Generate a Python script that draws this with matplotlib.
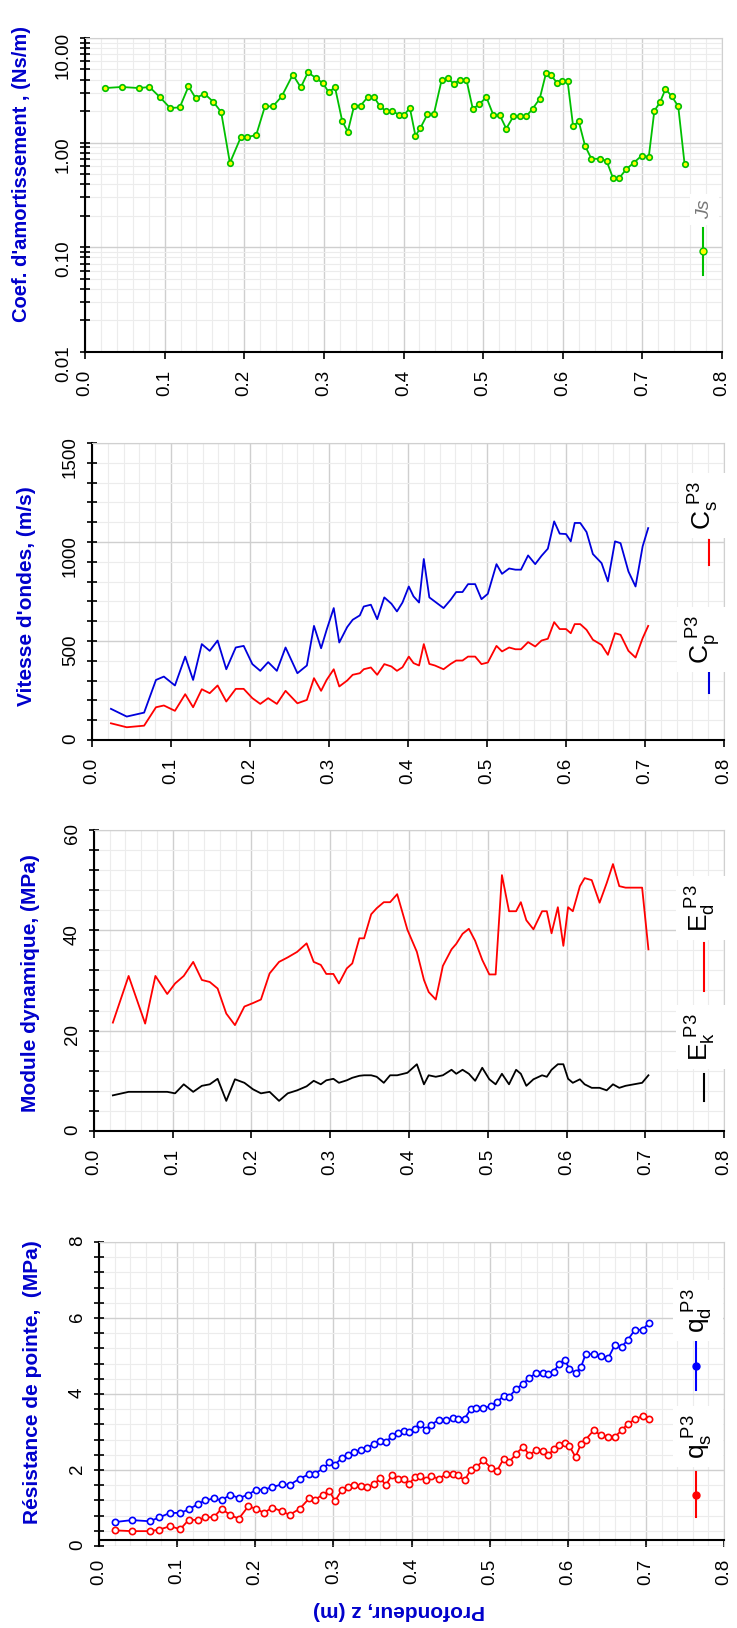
import numpy as np
import matplotlib
matplotlib.use('Agg')
import matplotlib.pyplot as plt
from matplotlib.ticker import MultipleLocator, FixedLocator, FuncFormatter, LogLocator

plt.rcParams['font.family'] = ['Liberation Sans', 'DejaVu Sans']
plt.rcParams['mathtext.fontset'] = 'custom'
plt.rcParams['mathtext.rm'] = 'Liberation Sans'

# Coefficient d'amortissement Js
z_js = [0.025, 0.046, 0.068, 0.081, 0.094, 0.107, 0.119, 0.130, 0.139, 0.150,
        0.161, 0.171, 0.182, 0.196, 0.204, 0.215, 0.226, 0.236, 0.247, 0.261,
        0.271, 0.280, 0.290, 0.299, 0.306, 0.314, 0.323, 0.330, 0.338, 0.346,
        0.355, 0.363, 0.370, 0.378, 0.386, 0.394, 0.401, 0.408, 0.415, 0.421,
        0.430, 0.438, 0.448, 0.456, 0.463, 0.471, 0.479, 0.487, 0.495, 0.504,
        0.513, 0.521, 0.529, 0.538, 0.546, 0.554, 0.562, 0.571, 0.579, 0.585,
        0.593, 0.599, 0.606, 0.613, 0.620, 0.628, 0.636, 0.647, 0.655, 0.663,
        0.671, 0.680, 0.689, 0.699, 0.708, 0.715, 0.722, 0.729, 0.737, 0.745,
        0.753]
js = [3.32, 3.40, 3.32, 3.40, 2.72, 2.14, 2.17, 3.44, 2.66, 2.93,
      2.46, 1.96, 0.64, 1.14, 1.13, 1.18, 2.22, 2.22, 2.76, 4.46,
      3.37, 4.69, 4.14, 3.68, 3.04, 3.37, 1.61, 1.27, 2.25, 2.25,
      2.72, 2.72, 2.25, 1.99, 2.00, 1.85, 1.85, 2.14, 1.16, 1.37,
      1.86, 1.86, 3.99, 4.11, 3.65, 3.99, 3.99, 2.10, 2.32, 2.72,
      1.82, 1.82, 1.36, 1.78, 1.78, 1.78, 2.10, 2.62, 4.62, 4.42,
      3.71, 3.90, 3.90, 1.43, 1.60, 0.93, 0.70, 0.70, 0.67, 0.46,
      0.46, 0.56, 0.64, 0.75, 0.73, 2.01, 2.42, 3.25, 2.76, 2.22,
      0.62]

# Vitesse d'ondes
z_c = [0.024, 0.044, 0.066, 0.081, 0.091, 0.105, 0.118, 0.128, 0.139, 0.149,
       0.159, 0.170, 0.182, 0.192, 0.203, 0.213, 0.223, 0.234, 0.245, 0.260,
       0.272, 0.281, 0.290, 0.297, 0.306, 0.313, 0.323, 0.330, 0.339, 0.344,
       0.353, 0.361, 0.370, 0.379, 0.386, 0.393, 0.401, 0.407, 0.414, 0.420,
       0.427, 0.434, 0.445, 0.454, 0.461, 0.469, 0.476, 0.485, 0.493, 0.501,
       0.512, 0.519, 0.528, 0.536, 0.543, 0.552, 0.561, 0.569, 0.577, 0.585,
       0.592, 0.600, 0.606, 0.611, 0.618, 0.626, 0.634, 0.645, 0.653, 0.662,
       0.669, 0.679, 0.688, 0.697, 0.704]
cp = [157, 118, 138, 303, 320, 275, 421, 303, 484, 450,
      502, 357, 467, 475, 383, 349, 393, 349, 467, 337,
      376, 576, 463, 556, 666, 492, 570, 607, 629, 674,
      683, 610, 720, 688, 649, 694, 775, 725, 694, 914,
      720, 699, 666, 708, 747, 747, 787, 787, 711, 738,
      888, 839, 866, 860, 860, 932, 888, 930, 966, 1104,
      1042, 1040, 1003, 1096, 1096, 1050, 939, 893, 801, 1003,
      994, 851, 775, 978, 1070]
cs = [84, 64, 72, 165, 174, 147, 231, 165, 256, 236,
      275, 194, 258, 258, 211, 182, 211, 182, 248, 185,
      202, 312, 248, 303, 357, 270, 300, 329, 337, 357,
      366, 329, 383, 371, 349, 367, 421, 388, 376, 484,
      384, 376, 357, 384, 401, 401, 421, 421, 383, 391,
      475, 447, 467, 458, 458, 494, 472, 502, 511, 595,
      560, 560, 539, 585, 585, 556, 506, 480, 430, 539,
      531, 450, 416, 514, 576]

# Module dynamique
z_e = [0.024, 0.044, 0.065, 0.078, 0.093, 0.103, 0.114, 0.126, 0.137, 0.147,
       0.157, 0.168, 0.179, 0.191, 0.202, 0.212, 0.223, 0.235, 0.246, 0.258,
       0.270, 0.279, 0.288, 0.295, 0.304, 0.311, 0.321, 0.328, 0.337, 0.343,
       0.352, 0.359, 0.368, 0.376, 0.385, 0.398, 0.410, 0.419, 0.425, 0.434,
       0.443, 0.454, 0.460, 0.468, 0.476, 0.484, 0.493, 0.502, 0.510, 0.518,
       0.527, 0.536, 0.542, 0.549, 0.558, 0.569, 0.575, 0.581, 0.589, 0.596,
       0.602, 0.608, 0.617, 0.623, 0.632, 0.642, 0.651, 0.659, 0.667, 0.675,
       0.696, 0.704]
ed = [21.6, 30.9, 21.4, 30.9, 27.3, 29.4, 30.9, 33.7, 30.1, 29.7,
      28.4, 23.4, 21.1, 24.8, 25.5, 26.2, 31.4, 33.7, 34.6, 35.7,
      37.4, 33.7, 33.1, 31.3, 31.3, 29.4, 32.4, 33.4, 38.4, 38.4,
      43.2, 44.4, 45.6, 45.6, 47.2, 40.1, 35.7, 30.1, 27.7, 26.2,
      32.9, 36.2, 37.3, 39.3, 40.3, 37.9, 34.1, 31.2, 31.2, 51.0,
      43.8, 43.8, 45.6, 42.0, 40.2, 43.8, 43.8, 39.4, 44.6, 36.9,
      44.6, 43.8, 48.8, 50.4, 50.0, 45.5, 49.4, 53.2, 48.8, 48.5,
      48.5, 36.2]
ek = [7.1, 7.8, 7.8, 7.8, 7.8, 7.5, 9.3, 7.8, 9.0, 9.3,
      10.4, 6.0, 10.3, 9.6, 8.3, 7.5, 7.8, 6.0, 7.5, 8.1,
      8.9, 10.0, 9.3, 10.1, 10.4, 9.6, 10.1, 10.6, 11.0, 11.1,
      11.1, 10.8, 9.6, 11.1, 11.1, 11.6, 13.3, 9.3, 11.1, 10.8,
      11.1, 12.2, 11.4, 12.2, 11.4, 10.0, 12.6, 10.3, 9.3, 11.4,
      9.3, 12.2, 11.4, 9.0, 10.3, 11.1, 10.8, 12.2, 13.3, 13.3,
      10.4, 9.6, 10.3, 9.3, 8.6, 8.6, 8.1, 9.3, 8.6, 9.0,
      9.6, 11.1]

# Resistance de pointe
z_q = [0.021, 0.042, 0.065, 0.077, 0.091, 0.104, 0.115, 0.127, 0.136, 0.147,
       0.157, 0.168, 0.179, 0.191, 0.201, 0.211, 0.222, 0.234, 0.244, 0.257,
       0.269, 0.276, 0.287, 0.295, 0.302, 0.311, 0.319, 0.326, 0.335, 0.343,
       0.352, 0.360, 0.367, 0.375, 0.383, 0.390, 0.397, 0.404, 0.411, 0.418,
       0.425, 0.435, 0.444, 0.453, 0.459, 0.468, 0.476, 0.483, 0.492, 0.502,
       0.509, 0.518, 0.525, 0.534, 0.543, 0.551, 0.559, 0.568, 0.575, 0.582,
       0.589, 0.596, 0.602, 0.610, 0.617, 0.623, 0.633, 0.643, 0.652, 0.660,
       0.669, 0.677, 0.686, 0.696, 0.704]
qd = [0.63, 0.68, 0.65, 0.75, 0.87, 0.87, 0.96, 1.11, 1.20, 1.25,
      1.20, 1.35, 1.26, 1.35, 1.48, 1.48, 1.55, 1.62, 1.61, 1.77,
      1.89, 1.90, 2.04, 2.20, 2.14, 2.32, 2.40, 2.48, 2.52, 2.59,
      2.68, 2.76, 2.73, 2.89, 2.96, 3.02, 3.00, 3.09, 3.22, 3.06,
      3.19, 3.32, 3.32, 3.36, 3.34, 3.35, 3.61, 3.63, 3.63, 3.68,
      3.79, 3.94, 3.92, 4.14, 4.27, 4.43, 4.54, 4.54, 4.53, 4.58,
      4.80, 4.90, 4.67, 4.55, 4.71, 5.06, 5.04, 5.00, 4.95, 5.28,
      5.24, 5.43, 5.69, 5.69, 5.88]
qs = [0.41, 0.39, 0.39, 0.43, 0.52, 0.44, 0.69, 0.68, 0.75, 0.76,
      0.98, 0.81, 0.72, 1.04, 0.98, 0.87, 1.01, 0.91, 0.82, 0.98,
      1.25, 1.22, 1.35, 1.45, 1.18, 1.48, 1.55, 1.60, 1.57, 1.54,
      1.62, 1.79, 1.60, 1.86, 1.75, 1.77, 1.62, 1.82, 1.83, 1.73,
      1.83, 1.77, 1.89, 1.90, 1.86, 1.73, 2.01, 2.08, 2.25, 2.05,
      1.96, 2.30, 2.21, 2.43, 2.61, 2.39, 2.52, 2.50, 2.40, 2.54,
      2.65, 2.71, 2.63, 2.34, 2.69, 2.80, 3.04, 2.91, 2.87, 2.87,
      3.04, 3.22, 3.33, 3.42, 3.33]

label_blue = '#0000cc'
fig = plt.figure(figsize=(7.37, 16.28), dpi=100)


def style_axes(ax, ylabel, lx, ly, lsize=15):
    ax.set_xlim(0, 0.8)
    ax.xaxis.set_major_locator(MultipleLocator(0.1))
    ax.xaxis.set_minor_locator(MultipleLocator(0.02))
    ax.xaxis.set_major_formatter(FuncFormatter(lambda v, p: '%.1f' % v))
    ax.grid(True, which='major', color='#cfcfcf', lw=1.0)
    ax.grid(True, which='minor', color='#ececec', lw=0.8)
    ax.set_axisbelow(True)
    ax.tick_params(axis='x', which='major', direction='out', length=5, width=1.2,
                   labelsize=13.5, labelrotation=90, pad=8)
    ax.tick_params(axis='x', which='minor', length=0)
    ax.tick_params(axis='y', which='both', direction='inout', length=7, width=1.2,
                   labelsize=13.5, labelrotation=90, pad=6)
    for s in ['left', 'bottom']:
        ax.spines[s].set_linewidth(1.5)
        ax.spines[s].set_color('black')
    for s in ['top', 'right']:
        ax.spines[s].set_color('#d0d0d0')
    ax.text(lx, ly, ylabel, transform=ax.transAxes, rotation=90, ha='center', va='center',
            fontsize=lsize, fontweight='bold', color=label_blue)


def legend_item(ax, x, y0, y1, color, marker=None, mfc=None):
    ym = (y0 + y1) / 2
    ax.plot([x, x], [y0, y1], color=color, lw=1.5, transform=ax.transAxes, clip_on=False)
    if marker:
        ax.plot([x], [ym], marker=marker, color=color, mfc=mfc, ms=5,
                transform=ax.transAxes, clip_on=False)


def legend_text(ax, x, y, s, size=19, color='black', style='normal'):
    ax.text(x, y, s, transform=ax.transAxes, rotation=90, ha='center', va='center',
            fontsize=size, color=color, style=style,
            bbox=dict(boxstyle='square,pad=0.3', fc='white', ec='none'))


# Panel 1 - Js
ax1 = fig.add_axes([0.1153, 0.7838, 0.8644, 0.1929])
ax1.plot(z_js, js, color='#00c000', lw=1.3, marker='o', ms=4, mfc='#ffff00', mec='#00c000', mew=1.2)
ax1.set_yscale('log')
ax1.set_ylim(0.01, 10)
ax1.yaxis.set_major_locator(FixedLocator([0.01, 0.1, 1, 10]))
ax1.yaxis.set_minor_locator(LogLocator(base=10, subs=np.arange(2, 10)))
ax1.yaxis.set_major_formatter(FuncFormatter(lambda v, p: '%.2f' % v))
ax1.yaxis.set_minor_formatter(FuncFormatter(lambda v, p: ''))
style_axes(ax1, "Coef. d'amortissement , (Ns/m)", -0.10, 0.567, lsize=14.5)
legend_item(ax1, 0.970, 0.245, 0.395, '#00c000', marker='o', mfc='#ffff00')
legend_text(ax1, 0.972, 0.455, 'Js', size=14, color='#777777', style='italic')

# Panel 2 - vitesses
ax2 = fig.add_axes([0.1248, 0.5455, 0.8576, 0.1824])
ax2.plot(z_c, cp, color='#0000dd', lw=1.3)
ax2.plot(z_c, cs, color='#ff0000', lw=1.3)
ax2.set_ylim(0, 1500)
ax2.yaxis.set_major_locator(MultipleLocator(500))
ax2.yaxis.set_minor_locator(MultipleLocator(100))
style_axes(ax2, "Vitesse d'ondes, (m/s)", -0.103, 0.485)
legend_item(ax2, 0.976, 0.589, 0.673, '#ff0000')
legend_text(ax2, 0.968, 0.788, r'$\mathregular{C_s^{\ P3}}$')
legend_item(ax2, 0.976, 0.158, 0.226, '#0000dd')
legend_text(ax2, 0.968, 0.337, r'$\mathregular{C_p^{\ P3}}$')

# Panel 3 - modules
ax3 = fig.add_axes([0.1275, 0.3053, 0.8549, 0.1849])
ax3.plot(z_e, ek, color='black', lw=1.3)
ax3.plot(z_e, ed, color='#ff0000', lw=1.3)
ax3.set_ylim(0, 60)
ax3.yaxis.set_major_locator(MultipleLocator(20))
ax3.yaxis.set_minor_locator(MultipleLocator(4))
style_axes(ax3, 'Module dynamique, (MPa)', -0.10, 0.49)
legend_item(ax3, 0.968, 0.465, 0.625, '#ff0000')
legend_text(ax3, 0.964, 0.741, r'$\mathregular{E_d^{\ P3}}$')
legend_item(ax3, 0.968, 0.10, 0.19, 'black')
legend_text(ax3, 0.964, 0.312, r'$\mathregular{E_k^{\ P3}}$')

# Panel 4 - resistance de pointe
ax4 = fig.add_axes([0.1343, 0.0504, 0.8481, 0.1867])
ax4.plot(z_q, qd, color='#0000ff', lw=1.3, marker='o', ms=4.5, mfc='white', mew=1.2)
ax4.plot(z_q, qs, color='#ff0000', lw=1.3, marker='o', ms=4.5, mfc='white', mew=1.2)
ax4.set_ylim(0, 8)
ax4.yaxis.set_major_locator(MultipleLocator(2))
ax4.yaxis.set_minor_locator(MultipleLocator(0.4))
style_axes(ax4, u'R\u00e9sistance de pointe,  (MPa)', -0.107, 0.54)
ax4.spines['bottom'].set_position(('data', 0.15))
legend_item(ax4, 0.955, 0.513, 0.67, '#0000ff', marker='o', mfc='#0000ff')
legend_text(ax4, 0.958, 0.775, r'$\mathregular{q_d^{\ P3}}$')
legend_item(ax4, 0.955, 0.095, 0.243, '#ff0000', marker='o', mfc='#ff0000')
legend_text(ax4, 0.958, 0.36, r'$\mathregular{q_s^{\ P3}}$')

fig.text(0.541, 0.011, 'Profondeur, z (m)', rotation=180, ha='center', va='center',
         fontsize=15, fontweight='bold', color=label_blue)

plt.savefig('out.png', dpi=100)
